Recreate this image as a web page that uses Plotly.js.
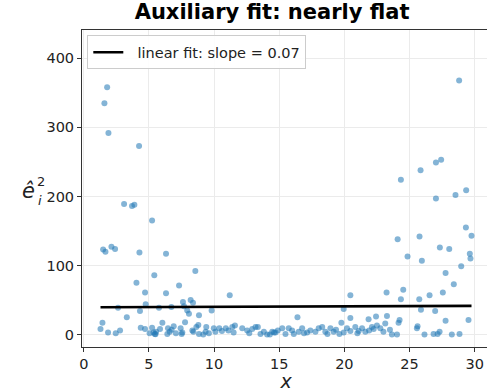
<!DOCTYPE html>
<html>
<head>
<meta charset="utf-8">
<script src="https://cdn.plot.ly/plotly-3.0.1.min.js"></script>
<style>
html,body{margin:0;padding:0;overflow:hidden;background:#fff;}
#chart{width:492px;height:392px;}
</style>
</head>
<body>
<div id="chart"></div>
<script>
// Squared residuals (x, e_i^2)
const xVals = [
  1.28,1.43,1.48,1.58,1.66,1.79,1.89,1.86,2.12,2.40,2.45,2.63,2.78,3.09,3.30,3.70,3.88,4.04,4.24,4.27,
  4.31,4.37,4.70,4.70,4.75,5.24,5.24,5.35,5.45,5.55,5.41,5.50,5.77,5.85,6.03,6.31,6.31,6.46,6.41,6.59,
  6.72,6.74,7.07,7.31,7.43,7.56,7.51,7.61,7.69,7.77,7.94,8.07,8.20,8.38,8.41,8.33,8.56,8.64,8.79,8.84,
  8.84,9.17,9.35,9.40,9.81,9.98,10.1,10.4,10.6,10.9,11.1,11.2,11.4,11.5,11.6,
  12.16,12.54,12.93,13.18,13.36,13.56,13.82,14.07,14.28,14.46,14.71,14.89,15.23,15.48,15.73,15.99,16.12,16.4,16.5,16.76,
  17.14,17.39,17.78,18.03,18.3,18.54,18.93,19.18,19.36,19.62,19.77,19.95,19.95,20.2,20.46,20.46,20.46,20.84,21.1,21.36,
  21.61,21.86,22.12,22.25,22.43,22.5,22.76,23.0,23.14,23.24,23.27,23.65,24.04,24.09,24.16,24.24,24.34,24.34,24.52,24.85,
  25.57,25.62,25.75,25.77,25.85,25.88,25.95,26.15,26.54,26.85,26.97,27.03,27.03,27.16,27.31,27.33,27.43,27.56,27.77,27.77,
  28.05,28.25,28.40,28.53,28.81,28.84,28.97,29.33,29.35,29.53,29.63,29.68,29.76,
  5.05,6.9,9.6,12.7,14.6,16.9,18.7,21.0,21.9,23.5
];
const yVals = [
  8,17,123,335,120,358,292,3,127,124,2,39,6,189,25,186,188,75,273,119,
  34,10,8,61,44,165,10,3,1,4,86,0.5,39,8,17,117,60,9,1,4,
  40,7,2,71,9,3,1,47,41,18,35,30,50,46,4,6,92,11,14,28,
  1,0,4,11,35,9,4,9,5,9,6,57,11,3,13,
  9,6,8,11,11,1,4,0,0,4,3,6,9,1,9,6,1,25,4,9,
  3,6,4,9,11,4,9,4,7,1,17,37,3,9,57,24,5,11,5,9,
  4,22,11,8,26,13,9,4,16,61,27,0,0,138,17,21,224,51,65,113,
  9,12,51,142,238,36,107,0,57,1,34,249,197,1,4,126,253,61,89,20,
  124,0,73,202,368,1,99,155,209,21,117,110,143,
  2,12,2,2,3,2,1,2,6,7
];
// Fitted auxiliary regression line (endpoints)
const fitX = [1.28, 29.76];
const fitY = [39.6, 41.6];
const fitLabel = "linear fit: slope = 0.07";

const xTicks = [0, 5, 10, 15, 20, 25, 30];
const yTicks = [0, 100, 200, 300, 400];

const traces = [
  {
    x: xVals, y: yVals, type: 'scatter', mode: 'markers', showlegend: false,
    marker: {color: 'rgba(31,119,180,0.55)', size: 6, line: {width: 0}}
  },
  {
    x: fitX, y: fitY, type: 'scatter', mode: 'lines', name: '  ' + fitLabel,
    line: {color: '#000000', width: 2.6}
  }
];

const font = "DejaVu Sans, Liberation Sans, sans-serif";
const layout = {
  width: 492, height: 392,
  margin: {l: 82, r: 2, t: 30, b: 45},
  paper_bgcolor: '#ffffff', plot_bgcolor: '#ffffff',
  font: {family: font, size: 14.5, color: '#222222'},
  title: {text: '<b>Auxiliary fit: nearly flat</b>', x: 0.466, xref: 'paper', xanchor: 'center',
          y: 1, yref: 'container', yanchor: 'top', pad: {t: 4},
          font: {family: font, size: 21, color: '#000000'}},
  xaxis: {
    range: [-0.14, 31.18], tickvals: xTicks, ticktext: xTicks.map(String),
    showgrid: true, gridcolor: '#ebebeb', gridwidth: 1, zeroline: false,
    showline: true, linecolor: '#333333', linewidth: 1, mirror: true,
    ticks: 'outside', ticklen: 4, tickcolor: '#333333',
    tickfont: {size: 14.5, color: '#222222'},
    title: {text: '<i>x</i>', font: {size: 19, color: '#222222'}, standoff: 2}
  },
  yaxis: {
    range: [-18, 441], tickvals: yTicks, ticktext: yTicks.map(String),
    showgrid: true, gridcolor: '#ebebeb', gridwidth: 1, zeroline: false,
    showline: true, linecolor: '#333333', linewidth: 1, mirror: true,
    ticks: 'outside', ticklen: 4, tickcolor: '#333333',
    tickfont: {size: 14.5, color: '#222222'}
  },
  legend: {
    x: 0.013, y: 0.983, xanchor: 'left', yanchor: 'top',
    bgcolor: 'rgba(255,255,255,0.9)', bordercolor: '#cccccc', borderwidth: 1,
    font: {size: 14.5, color: '#222222'}
  },
  annotations: [
    {text: '<i>ê</i>', xref: 'paper', yref: 'paper', x: -0.13, y: 0.492, xanchor: 'center', yanchor: 'middle',
     showarrow: false, font: {size: 21, color: '#222222'}},
    {text: '<i>i</i>', xref: 'paper', yref: 'paper', x: -0.113, y: 0.462, xanchor: 'left', yanchor: 'middle',
     showarrow: false, font: {size: 13, color: '#222222'}},
    {text: '2', xref: 'paper', yref: 'paper', x: -0.114, y: 0.522, xanchor: 'left', yanchor: 'middle',
     showarrow: false, font: {size: 13, color: '#222222'}}
  ]
};

Plotly.newPlot('chart', traces, layout, {displayModeBar: false, staticPlot: true});
</script>
</body>
</html>
